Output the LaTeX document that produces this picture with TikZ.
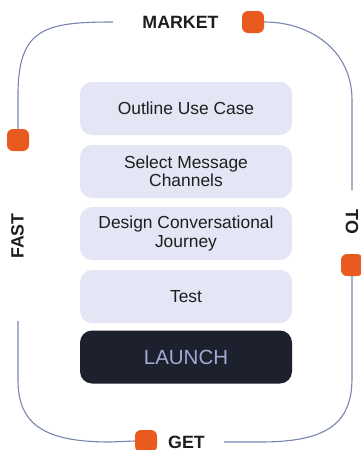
\documentclass[tikz,border=0pt]{standalone}
\usepackage{fontspec}
\setmainfont{Liberation Sans}
\definecolor{lineblue}{HTML}{7886AD}
\definecolor{boxfill}{HTML}{E4E5F5}
\definecolor{darknavy}{HTML}{1C212D}
\definecolor{launchtext}{HTML}{A3AAD4}
\definecolor{orange1}{HTML}{E85A1E}
\definecolor{textdark}{HTML}{1E1E1E}
\begin{document}
\begin{tikzpicture}[x=1pt,y=-1pt,
  frame/.style={draw=lineblue, line width=1.1pt},
  stepbox/.style={fill=boxfill, rounded corners=12pt, minimum width=212pt, minimum height=53pt, align=center, font=\fontsize{17.4}{18.5}\selectfont, text=textdark, inner sep=0pt},
  launchbox/.style={stepbox, fill=darknavy, text=launchtext, font=\fontsize{20.5}{22}\selectfont},
  marker/.style={fill=orange1, rounded corners=6pt, minimum size=22pt, inner sep=0pt},
  word/.style={font=\fontsize{17.8}{18}\bfseries\selectfont, text=textdark, inner sep=0pt}]
\useasboundingbox (0,0) rectangle (360,450);
% steps
\node[stepbox] (s1) at (186,108.5) {Outline Use Case};
\node[stepbox] (s2) at (186,171.5) {Select Message\\Channels};
\node[stepbox] (s3) at (186,233.5) {Design Conversational\\Journey};
\node[stepbox] (s4) at (186,296.5) {Test};
\node[launchbox] (s5) at (186,357) {LAUNCH};
% markers
\node[marker] (mt) at (253,22) {};
\node[marker] (ml) at (18,140) {};
\node[marker] (mr) at (352,265) {};
\node[marker] (mb) at (146,441) {};
% labels
\node[word] (market) at (180.5,22) {MARKET};
\node[word, rotate=90] (fast) at (17.5,236) {FAST};
\node[word, rotate=-90] (to) at (352,222) {TO};
\node[word, anchor=west] (get) at (168,442) {GET};
% free ends of the frame
\coordinate (tl) at (113,22);
\coordinate (lb) at (18,321);
\coordinate (br) at (224,442);
\coordinate (rt) at (352,190);
% frame
\draw[frame] (tl) .. controls (45,22) and (18,28) .. (18,95) -- (ml.north);
\draw[frame] (lb) -- (18,380) .. controls (18,425) and (45,442) .. (110,442) -- (mb.west);
\draw[frame] (br) -- (260,442) .. controls (325,442) and (352,425) .. (352,378) -- (mr.south);
\draw[frame] (rt) -- (352,100) .. controls (352,50) and (310,22) .. (mt.east);
\end{tikzpicture}
\end{document}
